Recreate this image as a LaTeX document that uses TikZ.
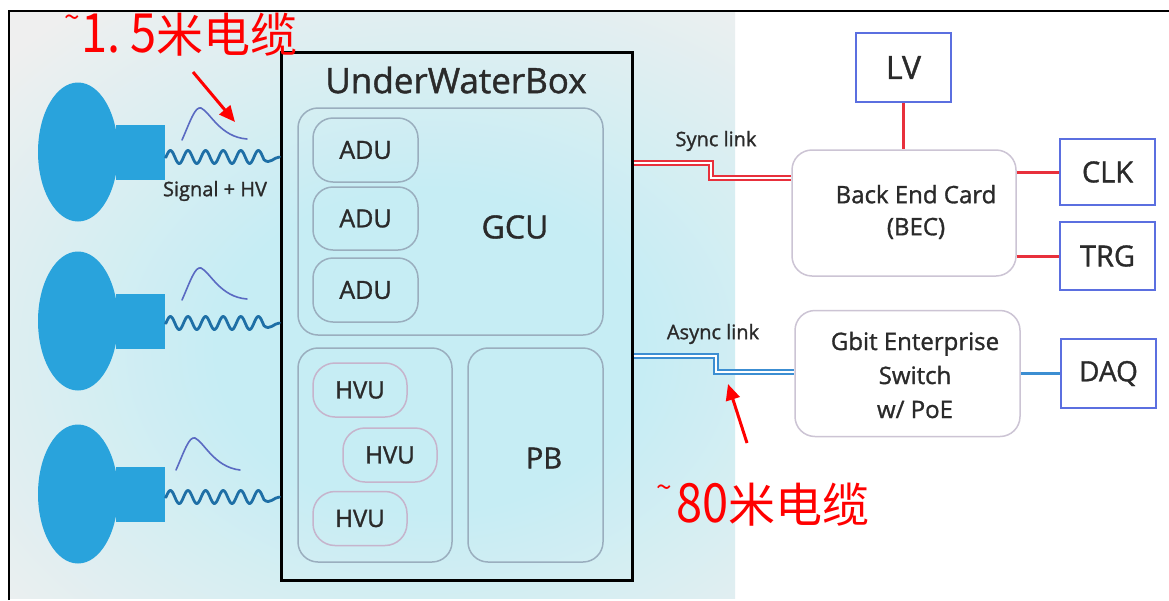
\documentclass[tikz,border=0pt]{standalone}
\usepackage{fontspec}
\setmainfont{Open Sans}
\newfontface\labfont{Open Sans}[FakeBold=1.2]
\newfontfamily\cjk{Noto Sans CJK SC}
\usetikzlibrary{arrows.meta,shapes.geometric}

\definecolor{panelgray}{HTML}{EFEFEF}
\definecolor{glowcyan}{HTML}{C6EDF4}
\definecolor{pmtblue}{HTML}{29A3DC}
\definecolor{wireblue}{HTML}{1E6FA6}
\definecolor{pulseblue}{HTML}{5A6AC2}
\definecolor{innerline}{HTML}{9AAEBE}
\definecolor{hvuline}{HTML}{C6B4CC}
\definecolor{boxblue}{HTML}{5B6FE0}
\definecolor{cardline}{HTML}{CCC4D4}
\definecolor{linkred}{HTML}{E8303C}
\definecolor{linkblue}{HTML}{3C8ED2}
\definecolor{txt}{HTML}{2A2A2A}
\definecolor{annot}{HTML}{FF0000}

\pgfdeclareradialshading{waterglow}{\pgfpoint{0bp}{0bp}}{color(0bp)=(glowcyan); color(6.5bp)=(glowcyan); color(17.5bp)=(panelgray); color(50bp)=(panelgray)}

\newcommand\fsz[1]{\labfont\fontsize{#1}{#1}\selectfont}
\newcommand\rsz[1]{\fontsize{#1}{#1}\selectfont}
\newcommand\tildemark{\raisebox{25pt}{\rsz{28}\char"007E}}
\newcommand\dig[1]{\scalebox{1}[1.15]{#1}}

\tikzset{
  lab/.style={text=txt, inner sep=0pt},
  unit/.style={draw=innerline, line width=1.5, rounded corners=20},
  hvubox/.style={draw=hvuline, line width=1.5, rounded corners=22},
  plainbox/.style={draw=boxblue, line width=2, fill=white},
  card/.style={draw=cardline, line width=1.5, rounded corners=20, fill=white},
  pmt/.style={fill=pmtblue, inner sep=0pt},
  wave/.style={draw=wireblue, line width=2.8, line cap=round},
  pulse/.style={draw=pulseblue, line width=1.6, line cap=round},
  redlink/.style={draw=linkred, line width=3},
  bluelink/.style={draw=linkblue, line width=3},
  syncline/.style={draw=linkred, line width=1.8, double=white, double distance=2},
  asyncline/.style={draw=linkblue, line width=1.8, double=white, double distance=2},
  annotarrow/.style={draw=annot, line width=3, -{Triangle[length=16pt,width=14pt]}},
  annottext/.style={text=annot, inner sep=0pt, font=\cjk\rsz{47}},
}

\begin{document}
\begin{tikzpicture}[x=1pt,y=-1pt]
\useasboundingbox (0,0) rectangle (1169,600);
\fill[white] (0,0) rectangle (1169,600);

% water background panel with a soft cyan glow
\fill[panelgray] (10,12) rectangle (735,598);
\begin{scope}
  \clip (10,12) rectangle (735,598);
  \shade[shading=waterglow] (-390,-270) rectangle (1250,970);
\end{scope}

% frame lines
\draw[black, line width=2.5] (9,600) -- (9,11) -- (1169,11);

% photomultipliers
\foreach \n/\yc in {1/152, 2/321, 3/494}{
  \node[pmt, ellipse, minimum width=80, minimum height=139] (pmt\n) at (78,\yc) {};
  \node[pmt, rectangle, minimum width=49, minimum height=55, anchor=west] (neck\n) at (116,\yc) {};
}

% under water box
\node[draw=black, line width=3, minimum width=351, minimum height=528, inner sep=0] (uwb) at (456.5,316) {};
\node[lab, font=\fsz{35}] (uwbtitle) at (456,80) {UnderWaterBox};

% GCU with the ADUs
\node[unit, minimum width=305, minimum height=227] (gcu) at (450.5,221.5) {};
\node[lab, font=\fsz{32}] (gcutext) at (515,227) {GCU};
\node[unit, minimum width=105, minimum height=64] (adu1) at (365.5,150) {};
\node[unit, minimum width=105, minimum height=63] (adu2) at (365.5,218.5) {};
\node[unit, minimum width=105, minimum height=64] (adu3) at (365.5,290) {};
\node[lab, font=\fsz{25}] at (adu1) {ADU};
\node[lab, font=\fsz{25}] at (adu2) {ADU};
\node[lab, font=\fsz{25}] at (adu3) {ADU};

% HV units and power board
\node[unit, minimum width=154, minimum height=214] (hvg) at (375,455) {};
\node[unit, minimum width=135, minimum height=214] (pb) at (535.5,455) {};
\node[lab, font=\fsz{29}] (pbtext) at (544,458) {PB};
\node[hvubox, minimum width=94, minimum height=54] (hvu1) at (360,390) {};
\node[hvubox, minimum width=94, minimum height=54] (hvu2) at (390,455) {};
\node[hvubox, minimum width=94, minimum height=54] (hvu3) at (360,518.5) {};
\node[lab, font=\fsz{24}] at (hvu1) {HVU};
\node[lab, font=\fsz{24}] at (hvu2) {HVU};
\node[lab, font=\fsz{24}] at (hvu3) {HVU};

% signal + HV cables with pulses
\foreach \n/\yw in {1/157, 2/323, 3/497}{
  \draw[wave] (neck\n.east |- 0,\yw)
    -- plot[domain=166:264, samples=140, smooth] (\x, {\yw - 6.5*sin((\x-166)/17.6*360)})
    .. controls (270,\yw+8) and (274,\yw) .. (uwb.west |- 0,\yw);
}
\draw[pulse] (182,140) .. controls (190,122) and (195,106) .. (201,108) .. controls (210,112) and (220,137) .. (247,139);
\draw[pulse] (182,300) .. controls (190,282) and (195,266) .. (201,268) .. controls (210,272) and (220,297) .. (247,299);
\draw[pulse] (176,470) .. controls (184,452) and (189,436) .. (195,438) .. controls (204,442) and (214,467) .. (240,470);
\node[lab, font=\fsz{20}] (sighv) at (215,191) {Signal + HV};

% back end electronics
\node[plainbox, minimum width=95, minimum height=69] (lv) at (903.5,67.5) {};
\node[lab, font=\fsz{32}] at (lv) {LV};
\node[card, minimum width=224, minimum height=126] (bec) at (904,213) {};
\node[lab, font=\fsz{24}, align=center] (bectext) at (916,212) {Back End Card\\[8pt](BEC)};
\node[plainbox, minimum width=95, minimum height=66] (clk) at (1107.5,172) {};
\node[lab, font=\fsz{29}] at (clk) {CLK};
\node[plainbox, minimum width=95, minimum height=68] (trg) at (1107.5,256) {};
\node[lab, font=\fsz{29}] at (trg) {TRG};
\node[card, minimum width=225, minimum height=126] (gbit) at (907.5,373.5) {};
\node[lab, font=\fsz{24}, align=center] (gbittext) at (915,375) {Gbit Enterprise\\[10pt]Switch\\[10pt]w/ PoE};
\node[plainbox, minimum width=95, minimum height=69] (daq) at (1108.5,373.5) {};
\node[lab, font=\fsz{28}] at (daq) {DAQ};

\draw[redlink] (lv.south) -- (bec.north -| lv.south);
\draw[redlink] (clk.west -| bec.east) -- (clk.west);
\draw[redlink] (trg.west -| bec.east) -- (trg.west);
\draw[bluelink] (daq.west -| gbit.east) -- (daq.west);

% links from the box to the back end
\draw[syncline] (uwb.east |- 0,163) -- (711,163) -- (711,178) -- (bec.west |- 0,178);
\draw[asyncline] (uwb.east |- 0,356) -- (716,356) -- (716,372) -- (gbit.west |- 0,372);
\node[lab, font=\fsz{20}] (synctext) at (716,141) {Sync link};
\node[lab, font=\fsz{20}] (asynctext) at (713,334) {Async link};

% cable length notes
\node[annottext, anchor=base west] (cab1) at (64,52) {\tildemark\hspace{2pt}\dig{1.}\hspace{10pt}\dig{5}米电缆};
\coordinate (a1tail) at (193,72);
\coordinate (a1tip) at (235,122);
\draw[annotarrow] (a1tail) -- (a1tip);
\node[annottext, anchor=base west] (cab2) at (656,522) {\tildemark\hspace{5pt}\dig{80}米电缆};
\coordinate (a2tail) at (747,443);
\coordinate (a2tip) at (728,384);
\draw[annotarrow] (a2tail) -- (a2tip);
\end{tikzpicture}
\end{document}
